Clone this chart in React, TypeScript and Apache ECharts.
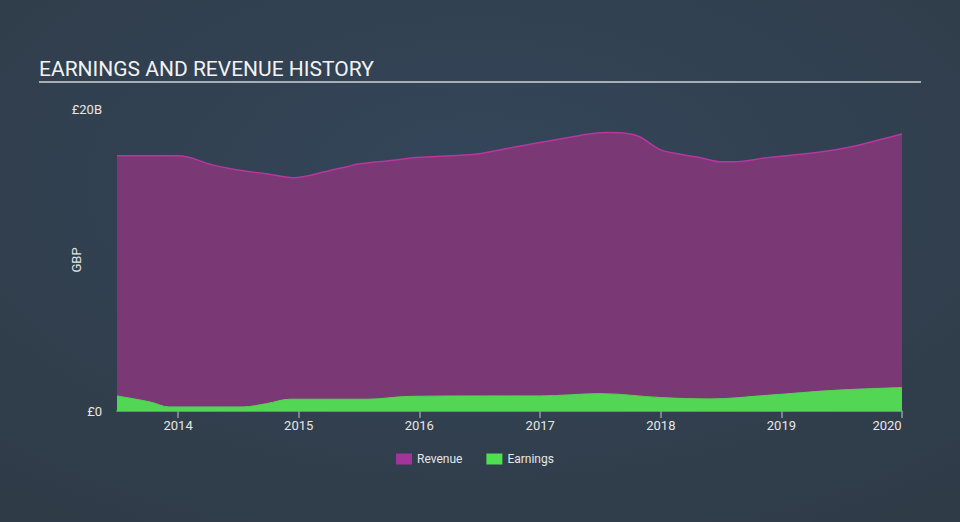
import React, { useEffect, useRef } from "react";
import * as echarts from "echarts";

const revenueDates = [
  "2013-06-30", "2014-01-01", "2014-04-15", "2014-06-30", "2014-09-30", "2014-12-15",
  "2015-03-31", "2015-05-27", "2015-07-01", "2015-10-01", "2016-01-01", "2016-04-01",
  "2016-07-01", "2016-09-01", "2016-12-01", "2017-04-01", "2017-06-15", "2017-07-25",
  "2017-10-01", "2017-11-01", "2018-01-01", "2018-03-01", "2018-04-25", "2018-07-01",
  "2018-08-10", "2018-11-20", "2019-03-01", "2019-06-10", "2019-08-01", "2020-01-01",
];
const revenueValues = [
  16.9, 16.9, 16.3, 15.96, 15.7, 15.45,
  15.9, 16.18, 16.36, 16.58, 16.8, 16.9,
  17.04, 17.29, 17.67, 18.13, 18.4, 18.44,
  18.35, 18.13, 17.29, 17.0, 16.8, 16.5,
  16.5, 16.78, 17.0, 17.29, 17.5, 18.35,
];

const earningsDates = [
  "2013-06-30", "2013-10-08", "2013-12-05", "2014-07-15", "2014-09-26", "2014-12-05",
  "2015-07-27", "2015-12-05", "2016-09-01", "2017-01-01", "2017-07-01", "2018-01-01",
  "2018-05-30", "2018-11-20", "2019-06-10", "2020-01-01",
];
const earningsValues = [
  1.0, 0.6, 0.27, 0.27, 0.49, 0.78,
  0.78, 0.97, 1.0, 1.0, 1.15, 0.89,
  0.8, 1.04, 1.37, 1.55,
];

const yearTicks = ["2014", "2015", "2016", "2017", "2018", "2019", "2020"];
const yTickValues = [0, 20];
const yTickLabels = ["£0", "£20B"];

const xMin = "2013-06-30";
const xMax = "2020-01-01";

const ts = (d: string) => new Date(d + "T00:00:00Z").getTime();

export default function App() {
  const ref = useRef<HTMLDivElement>(null);

  useEffect(() => {
    if (!ref.current) return;
    const chart = echarts.init(ref.current, null, { renderer: "svg" });
    const font = "Roboto, 'Noto Sans', sans-serif";
    const yearTs = yearTicks.map((y) => ts(y + "-01-01"));
    const lastYear = yearTicks[yearTicks.length - 1];

    chart.setOption({
      animation: false,
      backgroundColor: {
        type: "radial",
        x: 0.5,
        y: 0.35,
        r: 0.8,
        colorStops: [
          { offset: 0, color: "#34465a" },
          { offset: 1, color: "#2f3b47" },
        ],
      },
      textStyle: { fontFamily: font },
      title: {
        text: "EARNINGS AND REVENUE HISTORY",
        left: 34,
        top: 53,
        textStyle: {
          color: "#f2f2f2",
          fontSize: 21,
          fontWeight: "normal",
          fontFamily: font,
        },
      },
      graphic: [
        {
          type: "line",
          shape: { x1: 39, y1: 82, x2: 921, y2: 82 },
          style: { stroke: "#a7aeb6", lineWidth: 2 },
        },
      ],
      legend: {
        bottom: 52,
        left: 391,
        itemWidth: 16,
        itemHeight: 11,
        itemGap: 24,
        icon: "rect",
        textStyle: { color: "#e6e6e6", fontSize: 12, fontFamily: font },
        data: [
          { name: "Revenue", itemStyle: { color: "#a3359a" } },
          { name: "Earnings", itemStyle: { color: "#4fe04f" } },
        ],
      },
      grid: { left: 117, right: 58, top: 109, bottom: 111 },
      xAxis: {
        type: "value",
        min: ts(xMin),
        max: ts(xMax),
        axisLine: { show: true, lineStyle: { color: "#8f9aa6", width: 1.5 } },
        axisTick: {
          show: true,
          length: 7,
          lineStyle: { color: "#8f9aa6", width: 1.5 },
          customValues: yearTs,
        },
        axisLabel: {
          color: "#e6e6e6",
          fontSize: 13,
          margin: 8,
          customValues: yearTs,
          formatter: (v: number) => {
            const y = String(new Date(v).getUTCFullYear());
            return y === lastYear ? "{last|" + y + "}" : y;
          },
          rich: {
            last: {
              color: "#e6e6e6",
              fontSize: 13,
              fontFamily: font,
              padding: [0, 30, 0, 0],
            },
          },
          hideOverlap: false,
        },
        splitLine: { show: false },
      },
      yAxis: {
        type: "value",
        min: 0,
        max: 20,
        interval: 20,
        name: "GBP",
        nameLocation: "middle",
        nameRotate: 90,
        nameGap: 34,
        nameMoveOverlap: false,
        nameTextStyle: { color: "#e6e6e6", fontSize: 13, fontFamily: font },
        axisLine: { show: false },
        axisTick: { show: false },
        splitLine: { show: false },
        axisLabel: {
          color: "#e6e6e6",
          fontSize: 13,
          margin: 15,
          formatter: (v: number) => {
            const i = yTickValues.indexOf(v);
            return i >= 0 ? yTickLabels[i] : "";
          },
        },
      },
      series: [
        {
          name: "Revenue",
          type: "line",
          data: revenueDates.map((d, i) => [ts(d), revenueValues[i]]),
          smooth: 0.35,
          showSymbol: false,
          symbol: "none",
          lineStyle: { color: "#b8369f", width: 1.5 },
          itemStyle: { color: "#a3359a" },
          areaStyle: { color: "#7a3874", opacity: 1 },
          z: 2,
        },
        {
          name: "Earnings",
          type: "line",
          data: earningsDates.map((d, i) => [ts(d), earningsValues[i]]),
          smooth: 0.35,
          showSymbol: false,
          symbol: "none",
          lineStyle: { color: "#52d653", width: 1 },
          itemStyle: { color: "#4fe04f" },
          areaStyle: { color: "#52d653", opacity: 1 },
          z: 3,
        },
      ],
    });

    return () => chart.dispose();
  }, []);

  return (
    <div
      ref={ref}
      style={{ position: "absolute", left: 0, top: 0, width: 960, height: 522 }}
    />
  );
}
